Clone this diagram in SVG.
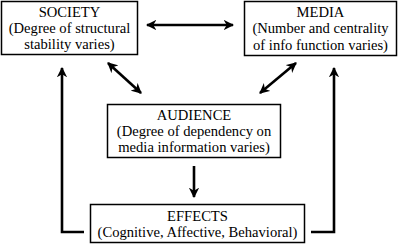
<svg xmlns="http://www.w3.org/2000/svg" width="400" height="244" viewBox="0 0 400 244">
<style>
.box{fill:#fff;stroke:#000;stroke-width:1.5}
.t{font-family:"Liberation Serif","DejaVu Serif",serif;font-size:14.6px;text-anchor:middle;fill:#000}
.c{fill:none;stroke:#000;stroke-width:2.6}
</style>
<defs>
<marker id="ah" viewBox="0 0 10 10" refX="9" refY="5" markerWidth="4" markerHeight="4" orient="auto-start-reverse" markerUnits="strokeWidth">
<path d="M0,0 L10,5 L0,10 L3,5 z" fill="#000"/>
</marker>
</defs>
<rect width="400" height="244" fill="#fff"/>
<g id="connectors">
<line class="c" x1="147" y1="25" x2="233" y2="25" marker-start="url(#ah)" marker-end="url(#ah)"/>
<line class="c" x1="108" y1="63" x2="141" y2="93" marker-start="url(#ah)" marker-end="url(#ah)"/>
<line class="c" x1="296" y1="63" x2="260" y2="93" marker-start="url(#ah)" marker-end="url(#ah)"/>
<line class="c" x1="194" y1="166" x2="194" y2="197" marker-end="url(#ah)"/>
<polyline class="c" points="84,232 62,232 62,68" marker-end="url(#ah)"/>
<polyline class="c" points="311,232 334,232 334,68" marker-end="url(#ah)"/>
</g>
<g id="society">
<rect class="box" x="1.5" y="1.5" width="136" height="53"/>
<text class="t" x="69.5" y="17">SOCIETY</text>
<text class="t" x="69.5" y="33">(Degree of structural</text>
<text class="t" x="69.5" y="49">stability varies)</text>
</g>
<g id="media">
<rect class="box" x="244.5" y="1.5" width="152" height="54"/>
<text class="t" x="320.5" y="17">MEDIA</text>
<text class="t" x="320.5" y="33">(Number and centrality</text>
<text class="t" x="320.5" y="50">of info function varies)</text>
</g>
<g id="audience">
<rect class="box" x="107.5" y="104.5" width="173" height="53"/>
<text class="t" x="194" y="120">AUDIENCE</text>
<text class="t" x="194" y="136">(Degree of dependency on</text>
<text class="t" x="194" y="152">media information varies)</text>
</g>
<g id="effects">
<rect class="box" x="90.5" y="204.5" width="214" height="38"/>
<text class="t" x="197.5" y="221">EFFECTS</text>
<text class="t" x="197.5" y="237">(Cognitive, Affective, Behavioral)</text>
</g>
</svg>
